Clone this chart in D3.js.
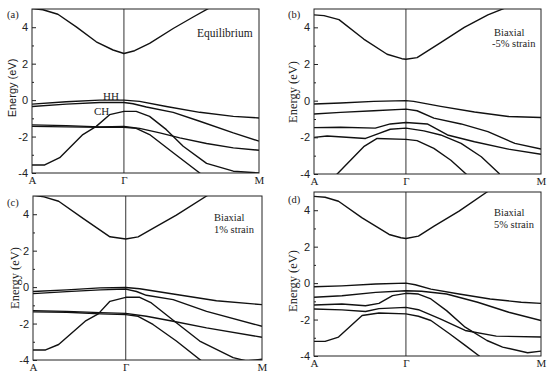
<!DOCTYPE html>
<html>
<head>
<meta charset="utf-8">
<script src="https://cdn.jsdelivr.net/npm/d3@7"></script>
<style>
body { margin: 0; background: #fff; }
svg { display: block; }
</style>
</head>
<body>
<svg width="550" height="376"></svg>
<script>
// k path: A = 0, Gamma = 0.405, M = 1 ; energies in eV
var kTicks = [0, 0.405, 1];
var kLabels = ["A", "Γ", "M"];
var eTicks = [-4, -2, 0, 2, 4];
var eMinor = [-3, -1, 1, 3];

// (a) equilibrium
var bandsA = [
	[[0,5.02],[.048,4.96],[.114,4.71],[.195,4.02],[.283,3.2],[.357,2.75],[.405,2.56],[.452,2.71],[.518,3.11],[.622,3.93],[.710,4.56],[.776,5.02],[.887,5.75]],
	[[0,-0.22],[.151,-0.09],[.298,0],[.405,0],[.474,-0.07],[.592,-0.35],[.739,-0.67],[.887,-0.89],[1,-0.98]],
	[[0,-0.35],[.151,-0.22],[.298,-0.13],[.405,-0.13],[.445,-0.2],[.504,-0.38],[.622,-0.67],[.739,-1.16],[.887,-1.8],[1,-2.25]],
	[[0,-3.56],[.056,-3.56],[.122,-3.16],[.224,-1.89],[.283,-1.44],[.342,-0.8],[.405,-0.62],[.459,-0.62],[.518,-0.89],[.592,-1.62],[.666,-2.53],[.769,-3.47],[.887,-3.9],[1,-4.0]],
	[[0,-1.36],[.151,-1.4],[.298,-1.47],[.405,-1.45],[.474,-1.55],[.563,-1.8],[.651,-2.07],[.769,-2.38],[.887,-2.62],[1,-2.75]],
	[[0,-1.44],[.151,-1.47],[.298,-1.49],[.405,-1.49],[.459,-1.55],[.518,-1.89],[.622,-2.89],[.739,-4.0],[.8,-4.8]]
];

// (b) biaxial -5%
var bandsB = [
	[[0,4.68],[.044,4.64],[.110,4.42],[.219,3.36],[.322,2.53],[.387,2.29],[.405,2.26],[.454,2.35],[.558,3.17],[.662,4.0],[.766,4.68],[.841,5.05],[.9,5.6]],
	[[0,-0.18],[.117,-0.13],[.263,-0.04],[.405,0],[.439,-0.04],[.558,-0.31],[.707,-0.62],[.856,-0.86],[1,-0.92]],
	[[0,-0.73],[.117,-0.64],[.263,-0.55],[.405,-0.46],[.454,-0.55],[.528,-0.95],[.648,-1.27],[.766,-1.69],[.885,-2.33],[1,-2.64]],
	[[0,-1.47],[.117,-1.45],[.270,-1.5],[.336,-1.27],[.405,-1.19],[.499,-1.27],[.588,-1.87],[.707,-2.24],[.856,-2.64],[1,-2.92]],
	[[0,-2.0],[.058,-1.93],[.227,-2.06],[.278,-1.82],[.336,-1.56],[.405,-1.5],[.484,-1.65],[.558,-1.87],[.648,-2.33],[.737,-3.06],[.818,-4.0]],
	[[.05,-4.7],[.102,-4],[.161,-3.25],[.219,-2.51],[.278,-2.06],[.405,-2.11],[.454,-2.18],[.528,-2.6],[.603,-3.25],[.670,-4],[.72,-4.6]]
];

// (c) biaxial 1%
var bandsC = [
	[[0,5.04],[.048,4.95],[.112,4.71],[.220,3.76],[.336,2.76],[.405,2.64],[.459,2.76],[.524,3.22],[.626,3.95],[.758,5.0],[.85,5.7]],
	[[0,-0.24],[.148,-0.15],[.293,-0.04],[.405,-0.02],[.466,-0.09],[.612,-0.38],[.801,-0.75],[1,-0.96]],
	[[0,-0.36],[.148,-0.25],[.293,-0.15],[.405,-0.11],[.452,-0.24],[.495,-0.45],[.612,-0.69],[.758,-1.33],[1,-2.15]],
	[[0,-3.45],[.055,-3.45],[.112,-3.15],[.228,-1.87],[.285,-1.47],[.336,-0.78],[.405,-0.56],[.466,-0.56],[.517,-0.87],[.626,-1.96],[.728,-2.96],[.874,-3.87],[.932,-4.05],[1,-3.96]],
	[[0,-1.29],[.148,-1.33],[.293,-1.4],[.405,-1.44],[.495,-1.6],[.612,-1.87],[.758,-2.24],[1,-2.75]],
	[[0,-1.36],[.148,-1.38],[.293,-1.47],[.405,-1.51],[.459,-1.6],[.524,-2.05],[.626,-2.96],[.736,-4.05],[.8,-4.8]]
];

// (d) biaxial 5%
var bandsD = [
	[[0,4.76],[.049,4.71],[.108,4.49],[.212,3.58],[.331,2.67],[.383,2.49],[.405,2.45],[.460,2.58],[.529,3.13],[.639,3.95],[.762,5.0],[.85,5.7]],
	[[0,-0.2],[.123,-0.15],[.272,-0.05],[.405,0],[.446,-0.09],[.515,-0.33],[.639,-0.6],[.776,-0.87],[.913,-1.05],[1,-1.11]],
	[[0,-0.78],[.123,-0.69],[.272,-0.51],[.405,-0.42],[.474,-0.45],[.584,-0.6],[.721,-1.05],[.858,-1.6],[1,-2.05]],
	[[0,-1.2],[.123,-1.15],[.227,-1.24],[.286,-1.11],[.346,-0.69],[.405,-0.56],[.460,-0.6],[.515,-0.87],[.584,-1.51],[.666,-2.42],[.762,-3.15],[.831,-3.51],[.941,-3.82],[1,-3.73]],
	[[0,-1.42],[.123,-1.47],[.227,-1.56],[.286,-1.4],[.405,-1.33],[.460,-1.46],[.556,-1.96],[.666,-2.6],[.803,-2.91],[1,-2.96]],
	[[0,-3.2],[.049,-3.2],[.108,-2.96],[.212,-1.78],[.286,-1.64],[.405,-1.69],[.460,-1.82],[.515,-2.05],[.597,-2.78],[.666,-3.42],[.728,-4.0],[.78,-4.6]]
];

var serif = "'Liberation Serif', 'Times New Roman', serif";
var sans = "'Liberation Sans', Arial, sans-serif";

var svg = d3.select("svg");

var panels = [
	{ id: "a", bands: bandsA, x0: 32, x1: 259, y0: 9, y1: 173,
		letter: "(a)", lx: 7, ly: 18, labFont: sans, labSize: 11, labX: 12, labY: 88,
		notes: [{ t: "Equilibrium", x: 197, y: 37, s: 11.5 }, { t: "HH", x: 103, y: 100, s: 11 }, { t: "CH", x: 94, y: 115, s: 11 }] },
	{ id: "b", bands: bandsB, x0: 314, x1: 541, y0: 9, y1: 174,
		letter: "(b)", lx: 288, ly: 18, labFont: serif, labSize: 12.5, labX: 293, labY: 92,
		notes: [{ t: "Biaxial", x: 494, y: 36, s: 10.5 }, { t: "-5% strain", x: 492, y: 47, s: 10.5 }] },
	{ id: "c", bands: bandsC, x0: 33, x1: 262, y0: 196, y1: 360,
		letter: "(c)", lx: 7, ly: 206, labFont: serif, labSize: 12.5, labX: 15, labY: 278,
		notes: [{ t: "Biaxial", x: 214, y: 221, s: 10.5 }, { t: "1% strain", x: 214, y: 233, s: 10.5 }] },
	{ id: "d", bands: bandsD, x0: 314, x1: 541, y0: 192, y1: 356,
		letter: "(d)", lx: 288, ly: 203, labFont: serif, labSize: 12.5, labX: 293, labY: 281,
		notes: [{ t: "Biaxial", x: 494, y: 216, s: 10.5 }, { t: "5% strain", x: 494, y: 228, s: 10.5 }] }
];

panels.forEach(function(p) {
	var x = d3.scaleLinear().domain([0, 1]).range([p.x0, p.x1]);
	var y = d3.scaleLinear().domain([-4, 5]).range([p.y1, p.y0]);
	var g = svg.append("g");

	g.append("clipPath").attr("id", "clip-" + p.id)
		.append("rect")
		.attr("x", p.x0).attr("y", p.y0)
		.attr("width", p.x1 - p.x0).attr("height", p.y1 - p.y0);

	var line = d3.line()
		.x(function(d) { return x(d[0]); })
		.y(function(d) { return y(d[1]); });

	// Gamma line
	g.append("line")
		.attr("x1", x(kTicks[1])).attr("x2", x(kTicks[1]))
		.attr("y1", p.y0).attr("y2", p.y1)
		.attr("stroke", "#333").attr("stroke-width", 1);

	g.append("g")
		.attr("clip-path", "url(#clip-" + p.id + ")")
		.selectAll("path")
		.data(p.bands)
		.enter().append("path")
		.attr("d", line)
		.attr("fill", "none")
		.attr("stroke", "#111")
		.attr("stroke-width", 1.4)
		.attr("stroke-linejoin", "round");

	// frame
	g.append("rect")
		.attr("x", p.x0).attr("y", p.y0)
		.attr("width", p.x1 - p.x0).attr("height", p.y1 - p.y0)
		.attr("fill", "none").attr("stroke", "#222").attr("stroke-width", 1);

	var yAxis = d3.axisLeft(y).tickValues(eTicks).tickSize(-4).tickPadding(4)
		.tickFormat(function(d) { return String(d); });
	var ya = g.append("g").attr("transform", "translate(" + p.x0 + ",0)").call(yAxis);
	ya.select(".domain").remove();
	ya.selectAll("line").attr("stroke", "#222");
	ya.selectAll("text").attr("font-family", sans).attr("font-size", 11).attr("fill", "#222");

	var yMinor = d3.axisLeft(y).tickValues(eMinor).tickSize(-2).tickFormat("");
	var ym = g.append("g").attr("transform", "translate(" + p.x0 + ",0)").call(yMinor);
	ym.select(".domain").remove();
	ym.selectAll("line").attr("stroke", "#222");

	var xAxis = d3.axisBottom(x).tickValues(kTicks).tickSize(0).tickPadding(3)
		.tickFormat(function(d, i) { return kLabels[i]; });
	var xa = g.append("g").attr("transform", "translate(0," + p.y1 + ")").call(xAxis);
	xa.select(".domain").remove();
	xa.selectAll("text").attr("font-family", serif).attr("font-size", 11).attr("fill", "#222");

	g.append("text")
		.attr("transform", "translate(" + p.labX + "," + p.labY + ") rotate(-90)")
		.attr("text-anchor", "middle")
		.attr("dy", "0.35em")
		.attr("font-family", p.labFont)
		.attr("font-size", p.labSize)
		.attr("fill", "#222")
		.text("Energy (eV)");

	g.append("text")
		.attr("x", p.lx).attr("y", p.ly)
		.attr("font-family", serif).attr("font-size", 10.5).attr("fill", "#222")
		.text(p.letter);

	g.selectAll(".note")
		.data(p.notes)
		.enter().append("text")
		.attr("class", "note")
		.attr("x", function(d) { return d.x; })
		.attr("y", function(d) { return d.y; })
		.attr("font-family", serif)
		.attr("font-size", function(d) { return d.s; })
		.attr("fill", "#222")
		.text(function(d) { return d.t; });
});
</script>
</body>
</html>
